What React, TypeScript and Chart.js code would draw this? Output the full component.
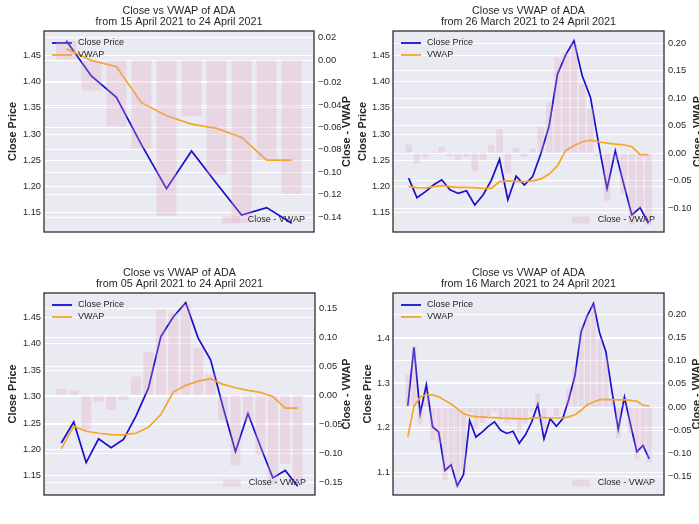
import React, { useEffect, useRef } from "react";
import { Chart, registerables } from "chart.js";

Chart.register(...registerables);

// ---------- DATA ----------
const dates = [
  "16 Mar", "17 Mar", "18 Mar", "19 Mar", "20 Mar", "21 Mar", "22 Mar", "23 Mar", "24 Mar", "25 Mar",
  "26 Mar", "27 Mar", "28 Mar", "29 Mar", "30 Mar", "31 Mar", "01 Apr", "02 Apr", "03 Apr", "04 Apr",
  "05 Apr", "06 Apr", "07 Apr", "08 Apr", "09 Apr", "10 Apr", "11 Apr", "12 Apr", "13 Apr", "14 Apr",
  "15 Apr", "16 Apr", "17 Apr", "18 Apr", "19 Apr", "20 Apr", "21 Apr", "22 Apr", "23 Apr", "24 Apr",
];

const closePrice = [
  1.249, 1.38, 1.231, 1.296, 1.202, 1.19, 1.104, 1.117, 1.07, 1.095,
  1.216, 1.179, 1.19, 1.203, 1.213, 1.194, 1.187, 1.192, 1.165, 1.184,
  1.212, 1.252, 1.175, 1.22, 1.203, 1.219, 1.263, 1.316, 1.414, 1.451,
  1.478, 1.411, 1.37, 1.28, 1.196, 1.268, 1.206, 1.146, 1.16, 1.13,
];

const vwapFrom15Apr = [1.4627, 1.4405, 1.4285, 1.36, 1.335, 1.319, 1.311, 1.2937, 1.2506, 1.2506];
const vwapFrom26Mar = [
  1.2006, 1.198, 1.1975, 1.2, 1.202, 1.2, 1.1987, 1.1987, 1.198, 1.1968,
  1.1968, 1.2095, 1.2108, 1.21, 1.2095, 1.211, 1.2146, 1.224, 1.24, 1.2684,
  1.2778, 1.2854, 1.2886, 1.2854, 1.2829, 1.281, 1.2797, 1.276, 1.2608, 1.2608,
];
const vwapFrom05Apr = [
  1.2008, 1.244, 1.2344, 1.2306, 1.228, 1.2274, 1.2306, 1.242, 1.266, 1.3086,
  1.3213, 1.3295, 1.334, 1.3232, 1.3168, 1.3118, 1.308, 1.3003, 1.2782, 1.2782,
];
const vwapFrom16Mar = [
  1.179, 1.248, 1.268, 1.274, 1.273, 1.269, 1.261, 1.253, 1.2425, 1.231,
  1.227, 1.2246, 1.224, 1.223, 1.2224, 1.2216, 1.221, 1.22, 1.22, 1.2195,
  1.221, 1.2224, 1.2224, 1.2216, 1.2216, 1.2216, 1.224, 1.229, 1.239, 1.2515,
  1.2575, 1.2627, 1.2634, 1.2627, 1.262, 1.262, 1.2612, 1.259, 1.25, 1.2485,
];

const diffFrom15Apr = [0.017, -0.027, -0.059, -0.079, -0.139, -0.05, -0.102, -0.145, -0.089, -0.119];
const diffFrom26Mar = [
  0.015, -0.019, -0.008, 0.003, 0.011, -0.006, -0.012, -0.007, -0.033, -0.013,
  0.015, 0.043, -0.036, 0.01, -0.007, 0.008, 0.048, 0.092, 0.174, 0.183,
  0.2, 0.126, 0.081, -0.005, -0.087, -0.013, -0.074, -0.13, -0.101, -0.131,
];
const diffFrom05Apr = [
  0.011, 0.008, -0.059, -0.011, -0.025, -0.008, 0.032, 0.074, 0.148, 0.142,
  0.157, 0.082, 0.036, -0.043, -0.121, -0.044, -0.102, -0.154, -0.118, -0.148,
];
const diffFrom16Mar = [
  0.07, 0.132, -0.037, 0.022, -0.071, -0.079, -0.157, -0.136, -0.173, -0.136,
  -0.011, -0.046, -0.034, -0.02, -0.009, -0.028, -0.034, -0.028, -0.055, -0.035,
  -0.009, 0.03, -0.047, -0.002, -0.019, -0.003, 0.039, 0.087, 0.175, 0.2,
  0.221, 0.148, 0.107, 0.017, -0.066, 0.006, -0.055, -0.113, -0.09, -0.119,
];

const priceTicks = [1.15, 1.2, 1.25, 1.3, 1.35, 1.4, 1.45];
const priceTicksWide = [1.1, 1.2, 1.3, 1.4];
const diffTicks15Apr = [-0.14, -0.12, -0.1, -0.08, -0.06, -0.04, -0.02, 0, 0.02];
const diffTicks26Mar = [-0.1, -0.05, 0, 0.05, 0.1, 0.15, 0.2];
const diffTicks05Apr = [-0.15, -0.1, -0.05, 0, 0.05, 0.1, 0.15];
const diffTicks16Mar = [-0.15, -0.1, -0.05, 0, 0.05, 0.1, 0.15, 0.2];

const titleLine1 = "Close vs VWAP of ADA";
const subTitles = [
  "from 15 April 2021 to 24 April 2021",
  "from 26 March 2021 to 24 April 2021",
  "from 05 April 2021 to 24 April 2021",
  "from 16 March 2021 to 24 April 2021",
];

// ---------- STYLE / LAYOUT ----------
const FONT = '"Liberation Sans", Arial, Helvetica, sans-serif';
const TEXT = "#262626";
const BLUE = "#1a0fcc";
const ORANGE = "#f5a623";
const PINK = "rgba(225,160,190,0.28)";
const BG = "#eaeaf2";

type Panel = {
  x: number; y: number; w: number; h: number;
  start: number; vwap: number[]; diff: number[]; sub: string;
  yMin: number; yMax: number; y2Min: number; y2Max: number;
  yTicks: number[]; yDec: number; y2Ticks: number[];
  padTop: number; padBottom: number; leftW: number; rightW: number;
  leftLabelX: number; rightLabelX: number;
};

const panels: Panel[] = [
  {
    x: 0, y: 0, w: 350, h: 255, start: 30, vwap: vwapFrom15Apr, diff: diffFrom15Apr, sub: subTitles[0],
    yMin: 1.1135, yMax: 1.4965, y2Min: -0.1532, y2Max: 0.026,
    yTicks: priceTicks, yDec: 2, y2Ticks: diffTicks15Apr,
    padTop: 31, padBottom: 23, leftW: 44, rightW: 36, leftLabelX: 13, rightLabelX: 347,
  },
  {
    x: 350, y: 0, w: 349, h: 255, start: 10, vwap: vwapFrom26Mar, diff: diffFrom26Mar, sub: subTitles[1],
    yMin: 1.1135, yMax: 1.4965, y2Min: -0.1437, y2Max: 0.2224,
    yTicks: priceTicks, yDec: 2, y2Ticks: diffTicks26Mar,
    padTop: 31, padBottom: 23, leftW: 43, rightW: 35, leftLabelX: 13, rightLabelX: 348,
  },
  {
    x: 0, y: 255, w: 350, h: 269, start: 20, vwap: vwapFrom05Apr, diff: diffFrom05Apr, sub: subTitles[2],
    yMin: 1.1135, yMax: 1.4965, y2Min: -0.1719, y2Max: 0.1764,
    yTicks: priceTicks, yDec: 2, y2Ticks: diffTicks05Apr,
    padTop: 38, padBottom: 29, leftW: 44, rightW: 35, leftLabelX: 13, rightLabelX: 347,
  },
  {
    x: 350, y: 255, w: 349, h: 269, start: 0, vwap: vwapFrom16Mar, diff: diffFrom16Mar, sub: subTitles[3],
    yMin: 1.0492, yMax: 1.5014, y2Min: -0.1895, y2Max: 0.246,
    yTicks: priceTicksWide, yDec: 1, y2Ticks: diffTicks16Mar,
    padTop: 38, padBottom: 29, leftW: 43, rightW: 35, leftLabelX: 18, rightLabelX: 347,
  },
];

const fmt = (v: number, dec: number) => {
  const s = Math.abs(v) < 1e-9 ? (0).toFixed(dec) : v.toFixed(dec);
  return s.replace("-", "\u2212");
};

const makeDecor = (p: Panel) => ({
  id: "decor",
  beforeDraw(chart: any) {
    const { ctx, chartArea: a } = chart;
    ctx.save();
    ctx.fillStyle = BG;
    ctx.fillRect(a.left, a.top, a.right - a.left, a.bottom - a.top);
    ctx.restore();
  },
  afterDatasetDraw(chart: any, args: any) {
    if (args.index !== 1) return;
    const { ctx, chartArea: a } = chart;
    ctx.save();
    ctx.font = `9px ${FONT}`;
    ctx.textBaseline = "middle";
    ctx.textAlign = "left";
    const rows: [string, string][] = [["Close Price", BLUE], ["VWAP", ORANGE]];
    rows.forEach(([label, color], i) => {
      const yy = a.top + 12 + i * 12;
      ctx.strokeStyle = color;
      ctx.lineWidth = 1.8;
      ctx.beginPath();
      ctx.moveTo(a.left + 8, yy);
      ctx.lineTo(a.left + 28, yy);
      ctx.stroke();
      ctx.fillStyle = TEXT;
      ctx.fillText(label, a.left + 34, yy);
    });
    ctx.restore();
  },
  afterDatasetsDraw(chart: any) {
    const { ctx, chartArea: a } = chart;
    ctx.save();
    ctx.font = `9px ${FONT}`;
    ctx.textBaseline = "middle";
    ctx.textAlign = "right";
    const label = "Close - VWAP";
    const tw = ctx.measureText(label).width;
    const tx = a.right - 9;
    const ty = a.bottom - 12;
    ctx.fillStyle = PINK;
    ctx.fillRect(tx - tw - 8 - 18, ty - 3.5, 18, 7);
    ctx.fillStyle = TEXT;
    ctx.fillText(label, tx, ty);
    ctx.restore();
  },
  afterDraw(chart: any) {
    const { ctx, chartArea: a } = chart;
    ctx.save();
    ctx.strokeStyle = "#2e2e2e";
    ctx.lineWidth = 1.3;
    ctx.strokeRect(a.left, a.top, a.right - a.left, a.bottom - a.top);

    const cx = (a.left + a.right) / 2;
    const cy = (a.top + a.bottom) / 2;
    ctx.fillStyle = TEXT;
    ctx.textAlign = "center";
    ctx.textBaseline = "middle";
    ctx.font = `10.8px ${FONT}`;
    ctx.fillText(titleLine1, cx, a.top - 20);
    ctx.fillText(p.sub, cx, a.top - 8.5);

    ctx.font = `bold 10.8px ${FONT}`;
    ctx.save();
    ctx.translate(p.leftLabelX, cy);
    ctx.rotate(-Math.PI / 2);
    ctx.fillText("Close Price", 0, 0);
    ctx.restore();
    ctx.save();
    ctx.translate(p.rightLabelX, cy);
    ctx.rotate(-Math.PI / 2);
    ctx.fillText("Close - VWAP", 0, 0);
    ctx.restore();
    ctx.restore();
  },
});

export default function App() {
  const refs = useRef<(HTMLCanvasElement | null)[]>([]);

  useEffect(() => {
    const charts: Chart[] = [];
    panels.forEach((p, k) => {
      const canvas = refs.current[k];
      if (!canvas) return;
      const n = p.diff.length;
      const idx = dates.slice(p.start, p.start + n).map((_, i) => i);
      const closeSlice = closePrice.slice(p.start, p.start + n);
      const margin = 0.05 * (n - 1 + 0.8);
      const tickFont = { family: FONT, size: 9.3 };
      const chart = new Chart(canvas, {
        type: "bar",
        data: {
          datasets: [
            {
              type: "line",
              label: "Close Price",
              data: idx.map((i) => ({ x: i, y: closeSlice[i] })),
              borderColor: BLUE,
              borderWidth: 1.7,
              pointRadius: 0,
              tension: 0,
              fill: false,
              yAxisID: "y",
              xAxisID: "x",
              order: 2,
            } as any,
            {
              type: "line",
              label: "VWAP",
              data: idx.map((i) => ({ x: i, y: p.vwap[i] })),
              borderColor: ORANGE,
              borderWidth: 1.7,
              pointRadius: 0,
              tension: 0,
              fill: false,
              yAxisID: "y",
              xAxisID: "x",
              order: 1,
            } as any,
            {
              type: "bar",
              label: "Close - VWAP",
              data: idx.map((i) => ({ x: i, y: p.diff[i] })),
              backgroundColor: PINK,
              borderWidth: 0,
              barPercentage: 0.8,
              categoryPercentage: 1.0,
              yAxisID: "y2",
              xAxisID: "x",
              order: 0,
            } as any,
          ],
        },
        options: {
          animation: false,
          responsive: false,
          devicePixelRatio: 1,
          layout: { padding: { top: p.padTop, bottom: p.padBottom, left: 0, right: 0 } },
          plugins: { legend: { display: false }, title: { display: false }, tooltip: { enabled: false } },
          scales: {
            x: {
              type: "linear",
              display: false,
              offset: false,
              min: -0.4 - margin,
              max: n - 1 + 0.4 + margin,
            },
            y: {
              type: "linear",
              position: "left",
              min: p.yMin,
              max: p.yMax,
              afterBuildTicks: (s: any) => {
                s.ticks = p.yTicks.map((v) => ({ value: v }));
              },
              afterFit: (s: any) => {
                s.width = p.leftW;
              },
              ticks: {
                autoSkip: false,
                padding: 3,
                font: tickFont,
                color: TEXT,
                callback: (v: any) => fmt(Number(v), p.yDec),
              },
              grid: { color: "#ffffff", lineWidth: 1, drawTicks: false },
              border: { display: false },
            },
            y2: {
              type: "linear",
              position: "right",
              min: p.y2Min,
              max: p.y2Max,
              afterBuildTicks: (s: any) => {
                s.ticks = p.y2Ticks.map((v) => ({ value: v }));
              },
              afterFit: (s: any) => {
                s.width = p.rightW;
              },
              ticks: {
                autoSkip: false,
                padding: 4,
                font: tickFont,
                color: TEXT,
                callback: (v: any) => fmt(Number(v), 2),
              },
              grid: { color: "#ffffff", lineWidth: 1, drawTicks: false },
              border: { display: false },
            },
          },
        } as any,
        plugins: [makeDecor(p)],
      });
      charts.push(chart);
    });
    return () => charts.forEach((c) => c.destroy());
  }, []);

  return (
    <div style={{ position: "absolute", left: 0, top: 0, width: 699, height: 524, background: "#ffffff", overflow: "hidden" }}>
      {panels.map((p, k) => (
        <canvas
          key={k}
          ref={(el) => {
            refs.current[k] = el;
          }}
          width={p.w}
          height={p.h}
          style={{ position: "absolute", left: p.x, top: p.y, width: p.w, height: p.h }}
        />
      ))}
    </div>
  );
}
